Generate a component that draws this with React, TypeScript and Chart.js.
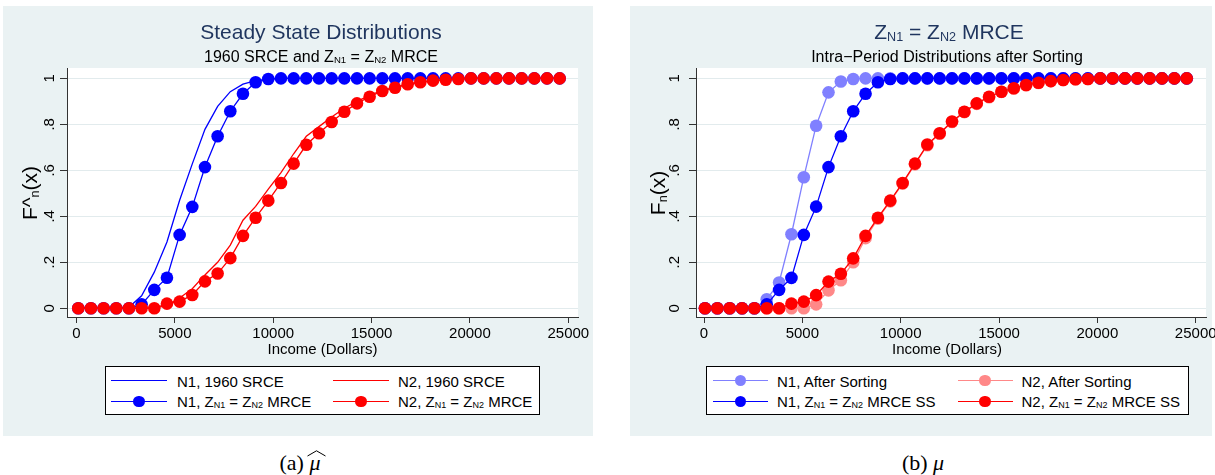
import React, { useEffect, useRef } from "react";
import { Chart, registerables } from "chart.js";

Chart.register(...registerables);

const FONT = '"Liberation Sans", Arial, Helvetica, sans-serif';
const SERIF = '"Liberation Serif", "Times New Roman", serif';

// ---------- data ----------
const xTickValues = [0, 5000, 10000, 15000, 20000, 25000];
const xTickLabels = ["0", "5000", "10000", "15000", "20000", "25000"];
const yTickValues = [0, 0.2, 0.4, 0.6, 0.8, 1];
const yTickLabels = ["0", ".2", ".4", ".6", ".8", "1"];

// Panel (a) income grid
const incomesA = [
  90, 734, 1378, 2022, 2666, 3310, 3954, 4598, 5242, 5886,
  6530, 7174, 7818, 8462, 9106, 9750, 10394, 11038, 11682, 12326,
  12970, 13614, 14258, 14902, 15546, 16190, 16834, 17478, 18122, 18766,
  19410, 20054, 20698, 21342, 21986, 22630, 23274, 23918, 24562,
];
const n1Srce1960 = [
  0, 0, 0, 0, 0.004, 0.054, 0.157, 0.288, 0.47, 0.628,
  0.778, 0.878, 0.942, 0.975, 0.99, 0.997, 1, 1, 1, 1,
  1, 1, 1, 1, 1, 1, 1, 1, 1, 1,
  1, 1, 1, 1, 1, 1, 1, 1, 1,
];
const n2Srce1960 = [
  0, 0, 0, 0, 0, 0, 0, 0.012, 0.045, 0.085,
  0.145, 0.2, 0.275, 0.383, 0.443, 0.518, 0.59, 0.672, 0.748, 0.79,
  0.832, 0.87, 0.9, 0.926, 0.948, 0.962, 0.975, 0.984, 0.99, 0.994,
  0.997, 1, 1, 1, 1, 1, 1, 1, 1,
];
const n1MrceA = [
  0, 0, 0, 0, 0, 0.017, 0.08, 0.133, 0.319, 0.441,
  0.614, 0.748, 0.857, 0.933, 0.983, 0.997, 1, 1, 1, 1,
  1, 1, 1, 1, 1, 1, 1, 1, 1, 1,
  1, 1, 1, 1, 1, 1, 1, 1, 1,
];
const n2MrceA = [
  0, 0, 0, 0, 0, 0, 0, 0.02, 0.029, 0.058,
  0.117, 0.151, 0.218, 0.315, 0.394, 0.468, 0.545, 0.629, 0.711, 0.761,
  0.81, 0.855, 0.891, 0.92, 0.945, 0.959, 0.974, 0.983, 0.99, 0.994,
  0.997, 1, 1, 1, 1, 1, 1, 1, 1,
];

// Panel (b) income grid
const incomesB = [
  50, 678, 1306, 1934, 2562, 3190, 3818, 4446, 5074, 5702,
  6330, 6958, 7586, 8214, 8842, 9470, 10098, 10726, 11354, 11982,
  12610, 13238, 13866, 14494, 15122, 15750, 16378, 17006, 17634, 18262,
  18890, 19518, 20146, 20774, 21402, 22030, 22658, 23286, 23914, 24542,
];
const n1AfterSorting = [
  0, 0, 0, 0, 0, 0.039, 0.112, 0.322, 0.57, 0.794,
  0.939, 0.986, 0.997, 1, 1, 1, 1, 1, 1, 1,
  1, 1, 1, 1, 1, 1, 1, 1, 1, 1,
  1, 1, 1, 1, 1, 1, 1, 1, 1, 1,
];
const n2AfterSorting = [
  0, 0, 0, 0, 0, 0, 0, 0, 0, 0.017,
  0.078, 0.122, 0.2, 0.305, 0.39, 0.465, 0.542, 0.626, 0.709, 0.759,
  0.81, 0.853, 0.889, 0.918, 0.941, 0.956, 0.97, 0.98, 0.988, 0.993,
  0.996, 0.997, 1, 1, 1, 1, 1, 1, 1, 1,
];
const n1MrceSS = [
  0, 0, 0, 0, 0, 0.017, 0.08, 0.132, 0.319, 0.442,
  0.614, 0.748, 0.857, 0.933, 0.983, 0.997, 1, 1, 1, 1,
  1, 1, 1, 1, 1, 1, 1, 1, 1, 1,
  1, 1, 1, 1, 1, 1, 1, 1, 1, 1,
];
const n2MrceSS = [
  0, 0, 0, 0, 0, 0, 0, 0.02, 0.029, 0.057,
  0.116, 0.15, 0.217, 0.315, 0.394, 0.468, 0.545, 0.629, 0.712, 0.761,
  0.812, 0.855, 0.891, 0.92, 0.942, 0.957, 0.971, 0.981, 0.988, 0.993,
  0.996, 0.997, 1, 1, 1, 1, 1, 1, 1, 1,
];

// ---------- styles ----------
const BLUE = "#0000ff";
const RED = "#ff0000";
const LIGHT_BLUE = "#8080ff";
const LIGHT_RED = "#ff8888";
const PANEL_BG = "#eaf2f3";
const GRID = "#e2ebed";
const AXIS = "#333333";
const NAVY = "#1f355e";

function makeDataset(label: string, xs: number[], ys: number[], color: string, markers: boolean, order: number) {
  return {
    label,
    data: xs.map((x, i) => ({ x, y: ys[i] })),
    borderColor: color,
    backgroundColor: color,
    borderWidth: 1.3,
    pointRadius: markers ? 6.3 : 0,
    pointHoverRadius: markers ? 6.3 : 0,
    pointBorderWidth: 0,
    pointBackgroundColor: color,
    tension: 0,
    fill: false,
    order,
  };
}

const axisTextPlugin = {
  id: "axisText",
  beforeDraw(chart: any) {
    const { ctx, chartArea: a } = chart;
    ctx.save();
    ctx.fillStyle = "#ffffff";
    ctx.fillRect(a.left, a.top, a.right - a.left, a.bottom - a.top);
    ctx.restore();
  },
  afterDraw(chart: any, _args: any, opts: any) {
    const { ctx } = chart;
    const xs = chart.scales.x;
    const ys = chart.scales.y;
    ctx.save();
    ctx.fillStyle = "#000";
    ctx.font = `15px ${FONT}`;
    ctx.textAlign = "center";
    ctx.textBaseline = "alphabetic";
    xTickValues.forEach((v, i) => {
      ctx.fillText(xTickLabels[i], xs.getPixelForValue(v), opts.xLabelBaseline);
    });
    yTickValues.forEach((v, i) => {
      ctx.save();
      ctx.translate(opts.yLabelBaseline, ys.getPixelForValue(v));
      ctx.rotate(-Math.PI / 2);
      ctx.fillText(yTickLabels[i], 0, 0);
      ctx.restore();
    });
    ctx.restore();
  },
};

type PanelProps = {
  left: number;
  top: number;
  width: number;
  height: number;
  datasets: any[];
  xMin: number;
  xMax: number;
  yAxisWidth: number;
  padRight: number;
  padTop: number;
  xAxisHeight: number;
  yLabelBaseline: number;
  xLabelBaseline: number;
};

function PanelChart(p: PanelProps) {
  const ref = useRef<HTMLCanvasElement | null>(null);
  useEffect(() => {
    if (!ref.current) return;
    const chart = new Chart(ref.current, {
      type: "line",
      data: { datasets: p.datasets },
      plugins: [axisTextPlugin as any],
      options: {
        animation: false,
        responsive: false,
        maintainAspectRatio: false,
        events: [],
        layout: { padding: { left: 0, top: p.padTop, right: p.padRight, bottom: 0 } },
        plugins: {
          legend: { display: false },
          title: { display: false },
          tooltip: { enabled: false },
          axisText: { yLabelBaseline: p.yLabelBaseline, xLabelBaseline: p.xLabelBaseline },
        } as any,
        scales: {
          x: {
            type: "linear",
            min: p.xMin,
            max: p.xMax,
            afterBuildTicks: (s: any) => {
              s.ticks = xTickValues.map((v) => ({ value: v }));
            },
            afterFit: (s: any) => {
              s.height = p.xAxisHeight;
            },
            ticks: { display: false },
            grid: { drawOnChartArea: false, drawTicks: true, tickLength: 6, tickColor: AXIS, tickWidth: 1 },
            border: { display: true, color: AXIS, width: 1 },
          },
          y: {
            type: "linear",
            min: -0.038,
            max: 1.045,
            afterBuildTicks: (s: any) => {
              s.ticks = yTickValues.map((v) => ({ value: v }));
            },
            afterFit: (s: any) => {
              s.width = p.yAxisWidth;
            },
            ticks: { display: false },
            grid: { drawOnChartArea: true, color: GRID, lineWidth: 1, drawTicks: true, tickLength: 7, tickColor: AXIS, tickWidth: 1 },
            border: { display: true, color: AXIS, width: 1 },
          },
        },
      } as any,
    });
    return () => chart.destroy();
  }, []);
  return (
    <canvas
      ref={ref}
      width={p.width}
      height={p.height}
      style={{ position: "absolute", left: p.left, top: p.top, width: p.width, height: p.height }}
    />
  );
}

const Sub = ({ children }: { children: React.ReactNode }) => (
  <span style={{ fontSize: "0.6em", position: "relative", top: "0.12em" }}>{children}</span>
);

function CText(props: { cx: number; baseline: number; size: number; color?: string; children: React.ReactNode }) {
  const { cx, baseline, size, color = "#000", children } = props;
  return (
    <div
      style={{
        position: "absolute",
        left: cx - 400,
        width: 800,
        top: baseline - 0.8465 * size,
        fontSize: size,
        lineHeight: `${size}px`,
        height: size,
        textAlign: "center",
        whiteSpace: "nowrap",
        color,
        fontFamily: FONT,
      }}
    >
      {children}
    </div>
  );
}

function LText(props: { x: number; baseline: number; size: number; children: React.ReactNode }) {
  const { x, baseline, size, children } = props;
  return (
    <div
      style={{
        position: "absolute",
        left: x,
        top: baseline - 0.8465 * size,
        fontSize: size,
        lineHeight: `${size}px`,
        height: size,
        whiteSpace: "nowrap",
        color: "#000",
        fontFamily: FONT,
      }}
    >
      {children}
    </div>
  );
}

function YTitle(props: { cx: number; cy: number; children: React.ReactNode }) {
  return (
    <div
      style={{
        position: "absolute",
        left: props.cx - 60,
        top: props.cy - 11,
        width: 120,
        height: 22,
        lineHeight: "22px",
        fontSize: 21,
        textAlign: "center",
        whiteSpace: "nowrap",
        transform: "rotate(-90deg)",
        transformOrigin: "50% 50%",
        fontFamily: FONT,
        color: "#000",
      }}
    >
      {props.children}
    </div>
  );
}

function LegendKey(props: { x1: number; x2: number; cy: number; color: string; marker: boolean }) {
  const { x1, x2, cy, color, marker } = props;
  const mx = (x1 + x2) / 2;
  return (
    <>
      <div style={{ position: "absolute", left: x1, top: cy - 0.65, width: x2 - x1, height: 1.3, background: color }} />
      {marker && (
        <div
          style={{
            position: "absolute",
            left: mx - 5.6,
            top: cy - 5.6,
            width: 11.2,
            height: 11.2,
            borderRadius: "50%",
            background: color,
          }}
        />
      )}
    </>
  );
}

function LegendBox(props: { left: number; right: number }) {
  return (
    <div
      style={{
        position: "absolute",
        left: props.left,
        top: 366,
        width: props.right - props.left,
        height: 49,
        boxSizing: "border-box",
        border: "1px solid #000",
        background: "#fff",
      }}
    />
  );
}

export default function App() {
  const leftDatasets = [
    makeDataset("N2, Z_N1 = Z_N2 MRCE", incomesA, n2MrceA, RED, true, 0),
    makeDataset("N1, Z_N1 = Z_N2 MRCE", incomesA, n1MrceA, BLUE, true, 1),
    makeDataset("N2, 1960 SRCE", incomesA, n2Srce1960, RED, false, 2),
    makeDataset("N1, 1960 SRCE", incomesA, n1Srce1960, BLUE, false, 3),
  ];
  const rightDatasets = [
    makeDataset("N2, Z_N1 = Z_N2 MRCE SS", incomesB, n2MrceSS, RED, true, 0),
    makeDataset("N1, Z_N1 = Z_N2 MRCE SS", incomesB, n1MrceSS, BLUE, true, 1),
    makeDataset("N2, After Sorting", incomesB, n2AfterSorting, LIGHT_RED, true, 2),
    makeDataset("N1, After Sorting", incomesB, n1AfterSorting, LIGHT_BLUE, true, 3),
  ];

  const row1 = 380.7;
  const row2 = 401.7;
  const base1 = 386.5;
  const base2 = 406.5;

  return (
    <div
      style={{
        position: "absolute",
        left: 0,
        top: 0,
        width: 1215,
        height: 475,
        overflow: "hidden",
        background: "#fff",
        fontFamily: FONT,
      }}
    >
      {/* panel backgrounds */}
      <div style={{ position: "absolute", left: 3, top: 6, width: 590, height: 430, background: PANEL_BG }} />
      <div style={{ position: "absolute", left: 630, top: 6, width: 582, height: 430, background: PANEL_BG }} />

      {/* charts */}
      <PanelChart
        left={3}
        top={6}
        width={590}
        height={430}
        datasets={leftDatasets}
        xMin={-483}
        xMax={25493}
        yAxisWidth={64}
        padRight={15}
        padTop={62}
        xAxisHeight={119}
        yLabelBaseline={51}
        xLabelBaseline={332.3}
      />
      <PanelChart
        left={630}
        top={6}
        width={585}
        height={430}
        datasets={rightDatasets}
        xMin={-407}
        xMax={25523}
        yAxisWidth={66}
        padRight={9}
        padTop={62}
        xAxisHeight={119}
        yLabelBaseline={49}
        xLabelBaseline={332.3}
      />

      {/* titles panel (a) */}
      <CText cx={321} baseline={39} size={21} color={NAVY}>
        Steady State Distributions
      </CText>
      <CText cx={321} baseline={62.7} size={16}>
        1960 SRCE and Z<Sub>N1</Sub> = Z<Sub>N2</Sub> MRCE
      </CText>
      <CText cx={322.5} baseline={354} size={15}>
        Income (Dollars)
      </CText>
      <YTitle cx={30} cy={193}>
        F^<Sub>n</Sub>(x)
      </YTitle>

      {/* titles panel (b) */}
      <CText cx={949} baseline={39} size={21} color={NAVY}>
        Z<Sub>N1</Sub> = Z<Sub>N2</Sub> MRCE
      </CText>
      <CText cx={947} baseline={62.5} size={16}>
        Intra−Period Distributions after Sorting
      </CText>
      <CText cx={947} baseline={354} size={15}>
        Income (Dollars)
      </CText>
      <YTitle cx={658} cy={193}>
        F<Sub>n</Sub>(x)
      </YTitle>

      {/* legend (a) */}
      <LegendBox left={105} right={540} />
      <LegendKey x1={111} x2={167} cy={row1} color={BLUE} marker={false} />
      <LText x={177} baseline={base1} size={15}>N1, 1960 SRCE</LText>
      <LegendKey x1={333} x2={389} cy={row1} color={RED} marker={false} />
      <LText x={398} baseline={base1} size={15}>N2, 1960 SRCE</LText>
      <LegendKey x1={111} x2={167} cy={row2} color={BLUE} marker={true} />
      <LText x={177} baseline={base2} size={15}>
        N1, Z<Sub>N1</Sub> = Z<Sub>N2</Sub> MRCE
      </LText>
      <LegendKey x1={333} x2={389} cy={row2} color={RED} marker={true} />
      <LText x={398} baseline={base2} size={15}>
        N2, Z<Sub>N1</Sub> = Z<Sub>N2</Sub> MRCE
      </LText>

      {/* legend (b) */}
      <LegendBox left={706} right={1189} />
      <LegendKey x1={712.5} x2={768} cy={row1} color={LIGHT_BLUE} marker={true} />
      <LText x={777} baseline={base1} size={15}>N1, After Sorting</LText>
      <LegendKey x1={957.5} x2={1012.5} cy={row1} color={LIGHT_RED} marker={true} />
      <LText x={1021.5} baseline={base1} size={15}>N2, After Sorting</LText>
      <LegendKey x1={712.5} x2={768} cy={row2} color={BLUE} marker={true} />
      <LText x={777} baseline={base2} size={15}>
        N1, Z<Sub>N1</Sub> = Z<Sub>N2</Sub> MRCE SS
      </LText>
      <LegendKey x1={957.5} x2={1012.5} cy={row2} color={RED} marker={true} />
      <LText x={1021.5} baseline={base2} size={15}>
        N2, Z<Sub>N1</Sub> = Z<Sub>N2</Sub> MRCE SS
      </LText>

      {/* captions */}
      <div
        style={{
          position: "absolute",
          left: 0,
          width: 600,
          top: 470 - 0.8375 * 22,
          height: 22,
          lineHeight: "22px",
          fontSize: 22,
          textAlign: "center",
          fontFamily: SERIF,
          whiteSpace: "nowrap",
        }}
      >
        (a){" "}
        <span style={{ position: "relative", display: "inline-block", fontStyle: "italic" }}>
          μ
          <svg
            width="19"
            height="7"
            style={{ position: "absolute", left: -2, top: -1.5 }}
          >
            <polyline points="0.5,6 9.5,0.8 18.5,6" fill="none" stroke="#000" strokeWidth="1" />
          </svg>
        </span>
      </div>
      <div
        style={{
          position: "absolute",
          left: 623,
          width: 600,
          top: 470 - 0.8375 * 22,
          height: 22,
          lineHeight: "22px",
          fontSize: 22,
          textAlign: "center",
          fontFamily: SERIF,
          whiteSpace: "nowrap",
        }}
      >
        (b) <span style={{ fontStyle: "italic" }}>μ</span>
      </div>
    </div>
  );
}
